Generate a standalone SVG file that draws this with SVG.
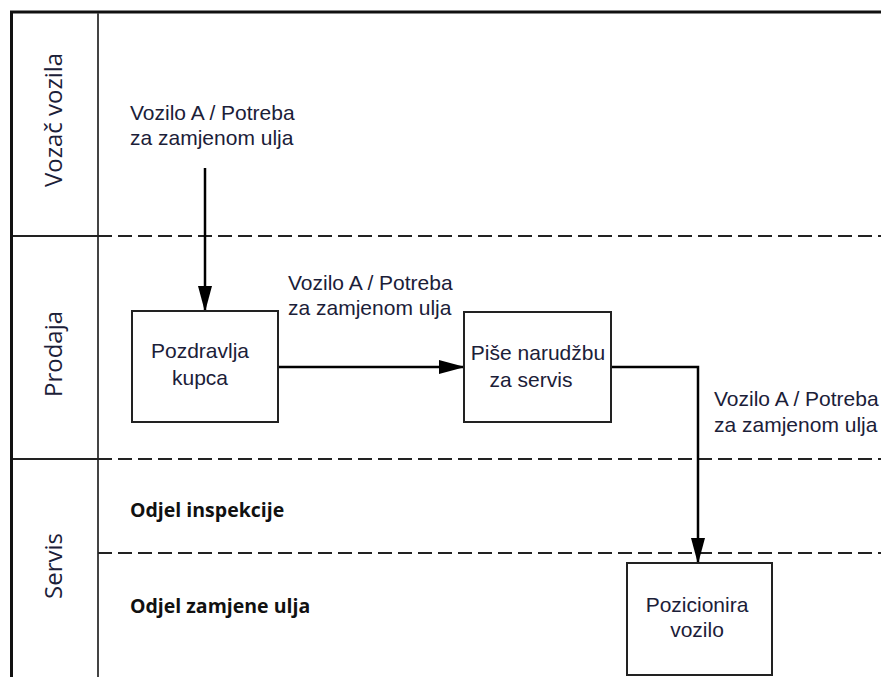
<svg xmlns="http://www.w3.org/2000/svg" width="881" height="677" viewBox="0 0 881 677">
<defs>
<style>
.frame{stroke:#111;stroke-width:3;fill:none}
.vline{stroke:#444;stroke-width:2;fill:none}
.solid{stroke:#222;stroke-width:2;fill:none}
.dash{stroke:#222;stroke-width:2;fill:none;stroke-dasharray:14 6}
.box{fill:#fff;stroke:#222;stroke-width:2}
.conn{stroke:#000;stroke-width:2.5;fill:none}
.t{font-family:"Liberation Sans",Arial,sans-serif;font-size:21px;fill:#1b2038}
.lane{font-family:"Open Sans","Liberation Sans",sans-serif;font-size:24px;fill:#1b2038;text-anchor:middle}
.b{font-family:"Open Sans","Liberation Sans",sans-serif;font-size:19.5px;font-weight:bold;fill:#111}
.c{text-anchor:middle}
</style>
<marker id="arr" markerWidth="26" markerHeight="14" viewBox="0 0 26 14" refX="25" refY="7" markerUnits="userSpaceOnUse" orient="auto">
<path d="M0,0 L26,7 L0,14 Z" fill="#000"/>
</marker>
</defs>
<rect width="881" height="677" fill="#fff"/>
<g id="lanes">
<line class="frame" x1="10" y1="12" x2="881" y2="12"/>
<line class="frame" x1="11.5" y1="11" x2="11.5" y2="677"/>
<line class="vline" x1="98" y1="13" x2="98" y2="677"/>
<line class="solid" x1="13" y1="236" x2="98" y2="236"/>
<line class="solid" x1="13" y1="459" x2="98" y2="459"/>
<line class="dash" x1="98" y1="236" x2="881" y2="236"/>
<line class="dash" x1="98" y1="459" x2="881" y2="459"/>
<line class="dash" x1="98" y1="553" x2="881" y2="553"/>
<text class="lane" transform="translate(62,120) rotate(-90)">Vozač vozila</text>
<text class="lane" transform="translate(62,354) rotate(-90)">Prodaja</text>
<text class="lane" transform="translate(62,566) rotate(-90)">Servis</text>
<text class="b" x="130" y="517">Odjel inspekcije</text>
<text class="b" x="130" y="613">Odjel zamjene ulja</text>
</g>
<g id="connectors">
<line class="conn" x1="205" y1="168" x2="205" y2="311" marker-end="url(#arr)"/>
<line class="conn" x1="278" y1="367" x2="464" y2="367" marker-end="url(#arr)"/>
<polyline class="conn" points="611,367 698,367 698,563" marker-end="url(#arr)"/>
<text class="t" x="130" y="120">Vozilo A / Potreba<tspan x="130" y="145">za zamjenom ulja</tspan></text>
<text class="t" x="288" y="290">Vozilo A / Potreba<tspan x="288" y="315">za zamjenom ulja</tspan></text>
<text class="t" x="714" y="406">Vozilo A / Potreba<tspan x="714" y="432">za zamjenom ulja</tspan></text>
</g>
<g id="pozdravlja">
<rect class="box" x="132" y="311" width="146" height="111"/>
<text class="t c" x="200" y="358">Pozdravlja<tspan x="200" y="385">kupca</tspan></text>
</g>
<g id="pise">
<rect class="box" x="464" y="312" width="147" height="110"/>
<text class="t c" x="538" y="360">Piše narudžbu<tspan x="531" y="387">za servis</tspan></text>
</g>
<g id="pozicionira">
<rect class="box" x="627" y="563" width="145" height="112"/>
<text class="t c" x="697" y="612">Pozicionira<tspan x="697" y="637">vozilo</tspan></text>
</g>
</svg>
